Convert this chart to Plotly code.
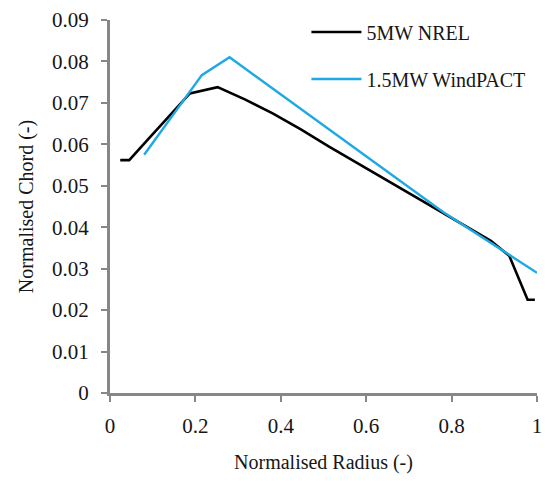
import plotly.graph_objects as go

# Blade chord distributions, normalised by rotor radius
nrel_radius = [0.024, 0.045, 0.089, 0.132, 0.187, 0.252, 0.317, 0.382, 0.447,
               0.512, 0.577, 0.642, 0.707, 0.772, 0.837, 0.892, 0.935, 0.978, 0.995]
nrel_chord = [0.0562, 0.0562, 0.0612, 0.0661, 0.0723, 0.0738, 0.0708, 0.0674, 0.0636,
              0.0595, 0.0556, 0.0517, 0.0478, 0.0439, 0.0400, 0.0367, 0.0331, 0.0225, 0.0225]

windpact_radius = [0.08, 0.215, 0.28, 0.78, 1.0]
windpact_chord = [0.0575, 0.0767, 0.081, 0.0437, 0.029]

series_names = ["5MW NREL", "1.5MW WindPACT"]
x_ticks = [0, 0.2, 0.4, 0.6, 0.8, 1]
y_ticks = [0, 0.01, 0.02, 0.03, 0.04, 0.05, 0.06, 0.07, 0.08, 0.09]

FONT = "Liberation Serif, Times New Roman, serif"
AXIS_GREY = "#878787"
TEXT = "#161616"

fig = go.Figure()
fig.add_trace(go.Scatter(x=nrel_radius, y=nrel_chord, mode="lines", name=series_names[0],
                         legendgroup="a", line=dict(color="#000000", width=2.6)))
fig.add_trace(go.Scatter(x=windpact_radius, y=windpact_chord, mode="lines", name=series_names[1],
                         legendgroup="b", line=dict(color="#1EA8E4", width=2.4)))

axis_common = dict(
    showgrid=False, zeroline=False, showline=True, linecolor=AXIS_GREY, linewidth=3,
    ticks="outside", ticklen=6, tickwidth=2, tickcolor=AXIS_GREY,
    tickfont=dict(family=FONT, size=21, color=TEXT),
)

fig.update_xaxes(range=[0, 1], tickvals=x_ticks, ticktext=[f"{v:g}" for v in x_ticks],
                 title=dict(text="Normalised Radius (-)", font=dict(family=FONT, size=20, color=TEXT),
                            standoff=18),
                 ticklabelstandoff=6, **axis_common)
fig.update_yaxes(range=[0, 0.09], tickvals=y_ticks, ticktext=[f"{v:g}" for v in y_ticks],
                 title=dict(text="Normalised Chord (-)", font=dict(family=FONT, size=20, color=TEXT),
                            standoff=14),
                 ticklabelstandoff=8, **axis_common)

fig.update_layout(
    width=545, height=481,
    margin=dict(l=110, r=8, t=20, b=88, autoexpand=False),
    paper_bgcolor="white", plot_bgcolor="white",
    showlegend=True,
    legend=dict(x=0.46, y=1.02, xanchor="left", yanchor="top",
                font=dict(family=FONT, size=20, color=TEXT),
                bgcolor="rgba(0,0,0,0)", tracegroupgap=18, itemwidth=50),
    font=dict(family=FONT, color=TEXT),
)

fig.write_html("out.html")
